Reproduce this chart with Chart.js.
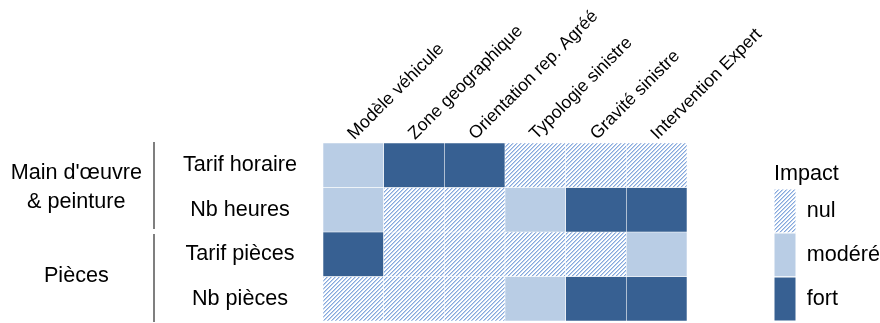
<!DOCTYPE html>
<html>
<head>
  <meta charset="UTF-8">
  <title>Impact</title>
  <script src="https://cdn.jsdelivr.net/npm/chart.js"></script>
  <style>
    body { margin: 0; background: #ffffff; }
    .wrap { width: 880px; height: 323px; }
  </style>
</head>
<body>
  <div class="wrap"><canvas id="chart"></canvas></div>

  <script>
    const columns = ["Modèle véhicule", "Zone geographique", "Orientation rep. Agréé", "Typologie sinistre", "Gravité sinistre", "Intervention Expert"];
    const rows = ["Tarif horaire", "Nb heures", "Tarif pièces", "Nb pièces"];
    const groups = [["Main d'œuvre", "& peinture"], "Pièces"];
    const groupRows = [[0, 1], [2, 3]];
    const levels = ["nul", "modéré", "fort"];

    // 0 = nul, 1 = modéré, 2 = fort
    const tarifHoraire = [1, 2, 2, 0, 0, 0];
    const nbHeures     = [1, 0, 0, 1, 2, 2];
    const tarifPieces  = [2, 0, 0, 0, 0, 1];
    const nbPieces     = [0, 0, 0, 1, 2, 2];
    const impact = [tarifHoraire, nbHeures, tarifPieces, nbPieces];

    const FONT = "'Liberation Sans', Arial, sans-serif";

    // hatch for "nul"
    function makeHatch() {
      const c = document.createElement("canvas");
      c.width = 4; c.height = 4;
      const g = c.getContext("2d");
      g.fillStyle = "#ffffff";
      g.fillRect(0, 0, 4, 4);
      for (let x = 0; x < 4; x++) {
        for (let y = 0; y < 4; y++) {
          const k = (x + y) % 4;
          if (k === 3) { g.fillStyle = "#86a8dc"; g.fillRect(x, y, 1, 1); }
          if (k === 0) { g.fillStyle = "#bed2ee"; g.fillRect(x, y, 1, 1); }
        }
      }
      return document.getElementById("chart").getContext("2d").createPattern(c, "repeat");
    }
    const hatch = makeHatch();
    const levelColors = [hatch, "#b9cde5", "#376092"];

    const datasets = rows.map((r, i) => ({
      label: r,
      data: columns.map(() => [i, i + 1]),
      backgroundColor: impact[i].map(v => levelColors[v]),
      borderColor: "#ffffff",
      borderWidth: 0.6,
      borderSkipped: false,
      barPercentage: 1,
      categoryPercentage: 1,
      grouped: false
    }));

    const groupMid = groupRows.map(g => (g[0] + g[g.length - 1] + 1) / 2);

    // tick padding is only used to place labels, not to pad the chart area
    const noPad = s => { s.paddingTop = 0; s.paddingBottom = 0; };

    new Chart(document.getElementById("chart"), {
      type: "bar",
      data: { labels: columns, datasets },
      options: {
        responsive: true,
        maintainAspectRatio: false,
        animation: false,
        layout: { padding: { top: 0, right: 0, bottom: 2, left: 0 } },
        plugins: {
          tooltip: { enabled: false },
          legend: {
            position: "right",
            align: "end",
            fullSize: false,
            maxWidth: 106,
            title: {
              display: true,
              text: "Impact",
              position: "start",
              color: "#000",
              font: { family: FONT, size: 21.6 }
            },
            labels: {
              boxWidth: 22,
              boxHeight: 44,
              padding: 0,
              color: "#000",
              font: { family: FONT, size: 21.6 },
              generateLabels: () => levels.map((l, i) => ({
                text: l,
                fillStyle: levelColors[i],
                strokeStyle: "#ffffff",
                lineWidth: 1,
                hidden: false,
                datasetIndex: i
              }))
            }
          }
        },
        scales: {
          x: {
            type: "category",
            position: "top",
            grid: { display: false, drawTicks: false },
            border: { display: false },
            ticks: {
              minRotation: 45,
              maxRotation: 45,
              autoSkip: false,
              padding: 5,
              color: "#000",
              font: { family: FONT, size: 17.7, lineHeight: 0.2 }
            },
            afterFit: s => { s.height = 143; }
          },
          y: {
            type: "linear",
            position: "left",
            weight: 0,
            min: 0,
            max: 4,
            reverse: true,
            grid: { display: false, drawTicks: false },
            border: { display: false },
            afterBuildTicks: s => { s.ticks = rows.map((r, i) => ({ value: i + 0.5 })); },
            ticks: {
              crossAlign: "center",
              padding: 26,
              color: "#000",
              font: { family: FONT, size: 21.6 },
              callback: (v, i) => rows[i]
            },
            afterFit: s => { s.width = 169; noPad(s); }
          },
          yg: {
            type: "linear",
            position: "left",
            weight: 1,
            min: 0,
            max: 4,
            reverse: true,
            grid: { display: false, drawTicks: false },
            border: {
              display: true,
              width: 2,
              color: ctx => {
                const s = ctx.scale;
                const area = ctx.chart.chartArea;
                if (!s || !area) return "#7f7f7f";
                const top = area.top, bottom = area.bottom;
                const h = bottom - top;
                const mid = (s.getPixelForValue(2) - top) / h;
                const half = 2.5 / h;
                const gr = ctx.chart.ctx.createLinearGradient(0, top, 0, bottom);
                gr.addColorStop(0, "#7f7f7f");
                gr.addColorStop(mid - half, "#7f7f7f");
                gr.addColorStop(mid - half, "#ffffff");
                gr.addColorStop(mid + half, "#ffffff");
                gr.addColorStop(mid + half, "#7f7f7f");
                gr.addColorStop(1, "#7f7f7f");
                return gr;
              }
            },
            afterBuildTicks: s => { s.ticks = groupMid.map(v => ({ value: v })); },
            ticks: {
              crossAlign: "center",
              padding: 12,
              color: "#000",
              font: { family: FONT, size: 21.6, lineHeight: 1.33 },
              callback: (v, i) => groups[i]
            },
            afterFit: s => { s.width = 154; noPad(s); }
          },
          yr: {
            type: "linear",
            position: "right",
            min: 0,
            max: 4,
            grid: { display: false, drawTicks: false },
            border: { display: false },
            ticks: { display: false },
            afterFit: s => { s.width = 87; noPad(s); }
          }
        }
      }
    });
  </script>
</body>
</html>
